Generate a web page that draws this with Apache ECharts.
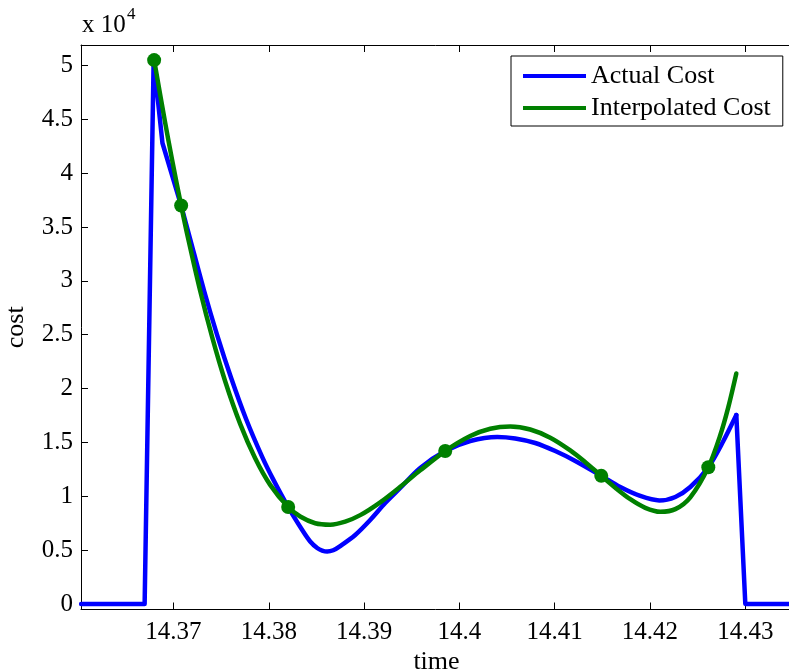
<!DOCTYPE html>
<html>
<head>
<meta charset="utf-8">
<script src="https://cdn.jsdelivr.net/npm/echarts@6/dist/echarts.min.js"></script>
<style>
html,body{margin:0;padding:0;background:#fff;}
#chart{width:789px;height:671px;}
</style>
</head>
<body>
<div id="chart"></div>
<script>
// ---- data (cost in raw units; the axis shows values x 10^4) ----
const actualTime = [14.360313, 14.366977, 14.367922, 14.368845, 14.370808, 14.371753, 14.373222, 14.374586, 14.376056, 14.377630,
  14.379309, 14.380464, 14.382038, 14.383613, 14.384347, 14.385082, 14.385607, 14.386131, 14.386761, 14.387496,
  14.389070, 14.390644, 14.392219, 14.393793, 14.395892, 14.398516, 14.401140, 14.403974, 14.405863, 14.407962,
  14.410061, 14.412160, 14.414889, 14.416883, 14.418982, 14.420976, 14.422655, 14.424230, 14.426119, 14.427588,
  14.429057, 14.430002, 14.434830];
const actualCost = [0, 0, 50500, 42800, 37000, 33890, 29060, 24970, 20980, 17150,
  13660, 11570, 9000, 6730, 5810, 5200, 4960, 4870, 4990, 5380,
  6410, 7800, 9380, 10770, 12630, 14200, 15130, 15510, 15370, 14950,
  14200, 13280, 11900, 10860, 10030, 9610, 9940, 10860, 12700, 14950,
  17550, 0, 0];
const interpTime = [14.367974, 14.369129, 14.369864, 14.370808, 14.371543, 14.372802, 14.374062, 14.375426, 14.377000, 14.378575,
  14.380149, 14.382038, 14.383298, 14.384872, 14.386446, 14.388021, 14.389595, 14.391694, 14.393793, 14.395892,
  14.398516, 14.401140, 14.403239, 14.405338, 14.407437, 14.409536, 14.411635, 14.413210, 14.414889, 14.416358,
  14.417932, 14.419507, 14.421081, 14.422655, 14.424230, 14.426119, 14.427378, 14.428218, 14.429057];
const interpCost = [50500, 44690, 41210, 37000, 33930, 29080, 24770, 20680, 16720, 13530,
  11060, 9000, 8120, 7500, 7370, 7650, 8250, 9440, 10880, 12410,
  14200, 15590, 16270, 16480, 16200, 15440, 14260, 13170, 11900, 10800,
  9730, 8930, 8560, 8810, 9910, 12700, 15690, 18280, 21400];
const nodeTime = [14.367974, 14.370808, 14.382038, 14.398516, 14.414889, 14.426119];
const nodeCost = [50500, 37000, 9000, 14200, 11900, 12700];
const xTicks = [14.37, 14.38, 14.39, 14.40, 14.41, 14.42, 14.43];
const yTicks = [0, 5000, 10000, 15000, 20000, 25000, 30000, 35000, 40000, 45000, 50000];
const seriesNames = ['Actual Cost', 'Interpolated Cost'];

const FONT = 'Liberation Serif';
const BLUE = '#0000ff';
const GREEN = '#008000';

function pairs(t, c, from, to) {
  const out = [];
  for (let i = from; i <= to; i++) out.push([t[i], c[i]]);
  return out;
}
const n = actualTime.length;
const actualLinear = pairs(actualTime, actualCost, 0, 4).concat([[null, null]], pairs(actualTime, actualCost, n - 3, n - 1));
const actualSmooth = pairs(actualTime, actualCost, 4, n - 3);
const interpData = pairs(interpTime, interpCost, 0, interpTime.length - 1);
const nodeData = pairs(nodeTime, nodeCost, 0, nodeTime.length - 1);

const chart = echarts.init(document.getElementById('chart'), null, {renderer: 'canvas'});
const xMin = 14.3603, xMax = 14.4349, yMin = -510, yMax = 51900;

const axisText = {color: '#000', fontFamily: FONT, fontSize: 25};
const option = {
  animation: false,
  backgroundColor: '#fff',
  grid: {left: 81, top: 45, right: -3, bottom: 61.5, containLabel: false, outerBoundsMode: 'none'},
  legend: {
    data: seriesNames.map(s => ({name: s, icon: 'rect'})),
    orient: 'vertical',
    left: 511, top: 56,
    itemWidth: 63, itemHeight: 4, itemGap: 6,
    padding: [7, 12, 5, 12],
    borderColor: '#000', borderWidth: 1, borderRadius: 0,
    backgroundColor: '#fff',
    textStyle: {fontFamily: FONT, fontSize: 26, color: '#000'},
    selectedMode: false
  },
  xAxis: [{
    type: 'value', min: xMin, max: xMax,
    name: 'time', nameLocation: 'middle', nameGap: 36,
    nameTextStyle: {fontFamily: FONT, fontSize: 26, color: '#000'},
    axisLine: {show: true, onZero: false, lineStyle: {color: '#000', width: 1}},
    axisTick: {show: true, inside: true, length: 7, customValues: xTicks, lineStyle: {color: '#000'}},
    axisLabel: Object.assign({show: true, customValues: xTicks, margin: 10,
      formatter: v => String(+(+v).toFixed(2))}, axisText),
    splitLine: {show: false}
  }, {
    type: 'value', min: xMin, max: xMax, position: 'top',
    axisLine: {show: true, onZero: false, lineStyle: {color: '#000', width: 1}},
    axisTick: {show: true, inside: true, length: 7, customValues: xTicks, lineStyle: {color: '#000'}},
    axisLabel: {show: false},
    splitLine: {show: false}
  }],
  yAxis: [{
    type: 'value', min: yMin, max: yMax,
    name: 'cost', nameLocation: 'middle', nameGap: 52, nameRotate: 90,
    nameTextStyle: {fontFamily: FONT, fontSize: 26, color: '#000'},
    axisLine: {show: true, onZero: false, lineStyle: {color: '#000', width: 1}},
    axisTick: {show: true, inside: true, length: 7, customValues: yTicks, lineStyle: {color: '#000'}},
    axisLabel: Object.assign({show: true, customValues: yTicks, margin: 8,
      formatter: v => String(+(v / 10000).toFixed(2))}, axisText),
    splitLine: {show: false}
  }],
  graphic: [
    {type: 'text', left: 82, top: 13, style: {text: 'x 10', font: '25px "Liberation Serif"', fill: '#000'}},
    {type: 'text', left: 127, top: 6, style: {text: '4', font: '17px "Liberation Serif"', fill: '#000'}}
  ],
  series: [
    {name: 'Actual Cost', type: 'line', data: actualLinear, smooth: false, showSymbol: false, symbol: 'none',
      connectNulls: false, lineStyle: {color: BLUE, width: 4.5, join: 'round', cap: 'round'}, itemStyle: {color: BLUE}, z: 2},
    {name: 'Actual Cost', type: 'line', data: actualSmooth, smooth: 0.3, showSymbol: false, symbol: 'none',
      lineStyle: {color: BLUE, width: 4.5, join: 'round', cap: 'round'}, itemStyle: {color: BLUE}, z: 2},
    {name: 'Interpolated Cost', type: 'line', data: interpData, smooth: 0.3, showSymbol: false, symbol: 'none',
      lineStyle: {color: GREEN, width: 4.5, join: 'round', cap: 'round'}, itemStyle: {color: GREEN}, z: 3},
    {name: 'nodes', type: 'scatter', data: nodeData, symbol: 'circle', symbolSize: 14,
      itemStyle: {color: GREEN, opacity: 1}, z: 4}
  ]
};
chart.setOption(option);
</script>
</body>
</html>
